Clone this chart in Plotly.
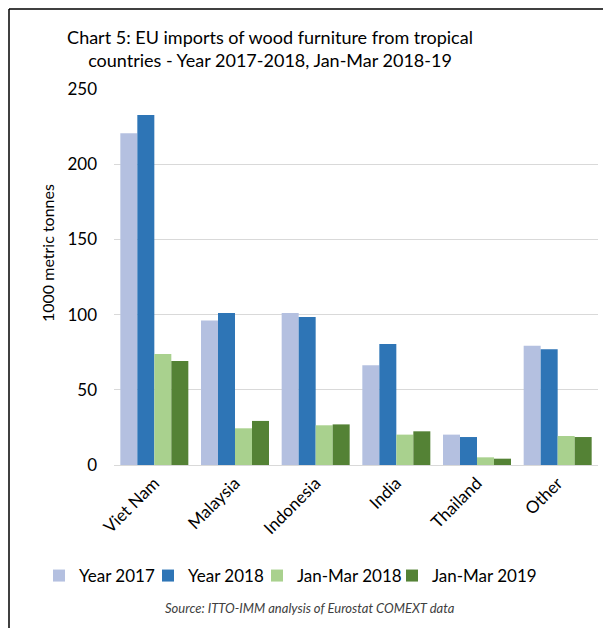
import plotly.graph_objects as go

categories = ["Viet Nam", "Malaysia", "Indonesia", "India", "Thailand", "Other"]
year_2017 = [220.5, 96.0, 101.0, 66.3, 20.2, 79.3]
year_2018 = [232.7, 101.0, 98.4, 80.4, 18.6, 76.9]
janmar_2018 = [73.8, 24.4, 26.4, 20.2, 5.1, 19.3]
janmar_2019 = [69.1, 29.3, 27.0, 22.4, 4.2, 18.6]
series_names = ["Year 2017", "Year 2018", "Jan-Mar 2018", "Jan-Mar 2019"]
colors = ["#b4c0e0", "#2e75b6", "#a9d18e", "#548235"]
y_ticks = [0, 50, 100, 150, 200, 250]

FONT = "Lato"
W, H = 603, 628
L, R, T, B = 114, 5, 89, 163
pw = W - L - R
ph = H - T - B

def px_to_paper_x(px):
    return (px - L) / pw

def px_to_paper_y(py):
    return (H - B - py) / ph

legend_ids = ["legend", "legend2", "legend3", "legend4"]
legend_left_px = [39, 148, 257, 392]

fig = go.Figure()
for name, vals, col, lid in zip(series_names, [year_2017, year_2018, janmar_2018, janmar_2019], colors, legend_ids):
    fig.add_trace(go.Bar(x=categories, y=vals, name=name, legend=lid,
                         marker=dict(color=col, line=dict(width=0))))

legend_layouts = {}
for lid, lx in zip(legend_ids, legend_left_px):
    legend_layouts[lid] = dict(
        orientation="h",
        x=px_to_paper_x(lx), xanchor="left",
        y=px_to_paper_y(576), yanchor="middle",
        font=dict(family=FONT, size=17, color="#000000"),
        itemwidth=30,
        bgcolor="rgba(0,0,0,0)",
    )

fig.update_layout(
    width=W, height=H,
    margin=dict(l=L, r=R, t=T, b=B),
    paper_bgcolor="white", plot_bgcolor="white",
    barmode="group", bargap=0.157, bargroupgap=0,
    font=dict(family=FONT, color="#000000", size=17),
    title=dict(
        text="Chart 5: EU imports of wood furniture from tropical<br>countries - Year 2017-2018, Jan-Mar 2018-19",
        font=dict(family=FONT, size=18, color="#000000"),
        x=270 / W, xanchor="center", xref="container",
        y=1 - 44 / H, yanchor="middle", yref="container",
    ),
    showlegend=True,
    xaxis=dict(
        tickangle=-45,
        showgrid=False,
        showline=False,
        ticks="",
        ticklabelstandoff=4,
        tickfont=dict(family=FONT, size=17, color="#000000"),
    ),
    yaxis=dict(
        range=[0, 250],
        tickvals=y_ticks,
        showgrid=True, gridcolor="#d9d9d9", gridwidth=1,
        zeroline=True, zerolinecolor="#d9d9d9", zerolinewidth=1,
        showline=False, ticks="",
        ticklabelstandoff=16,
        tickfont=dict(family=FONT, size=17, color="#000000"),
    ),
    annotations=[
        dict(text="1000 metric tonnes", textangle=-90,
             x=px_to_paper_x(47), y=px_to_paper_y(253), xref="paper", yref="paper",
             showarrow=False, font=dict(family=FONT, size=16, color="#000000"),
             xanchor="center", yanchor="middle"),
        dict(text="<i>Source: ITTO-IMM analysis of Eurostat COMEXT data</i>",
             x=px_to_paper_x(310), y=px_to_paper_y(608), xref="paper", yref="paper",
             showarrow=False, font=dict(family=FONT, size=13, color="#404040"),
             xanchor="center", yanchor="middle"),
    ],
    shapes=[
        dict(type="line", xref="paper", yref="paper",
             x0=px_to_paper_x(9), x1=px_to_paper_x(9),
             y0=px_to_paper_y(9), y1=px_to_paper_y(640),
             line=dict(color="#000000", width=1.5)),
        dict(type="line", xref="paper", yref="paper",
             x0=px_to_paper_x(9), x1=px_to_paper_x(620),
             y0=px_to_paper_y(9), y1=px_to_paper_y(9),
             line=dict(color="#000000", width=1.5)),
    ],
    **legend_layouts,
)

fig.write_html("out.html")
